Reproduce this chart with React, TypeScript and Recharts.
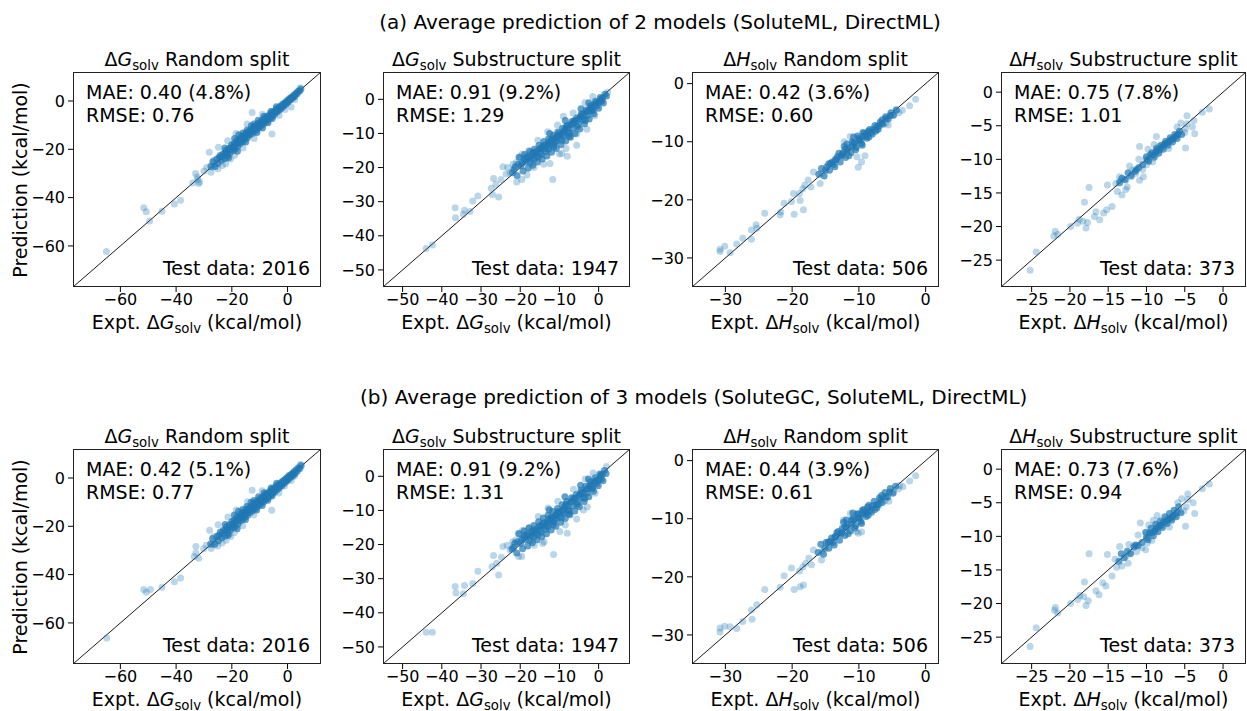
import React from "react";
import { ScatterChart, Scatter, XAxis, YAxis, ReferenceLine } from "recharts";

type Pt = [number, number];

// headers
const headers = [
  "(a) Average prediction of 2 models (SoluteML, DirectML)",
  "(b) Average prediction of 3 models (SoluteGC, SoluteML, DirectML)",
];

// panel metadata (same order in both rows)
const quantities = ["G", "G", "H", "H"];
const splits = ["Random split", "Substructure split", "Random split", "Substructure split"];
const domains: Pt[] = [[-77, 12], [-55, 8], [-35, 2], [-29, 3]];
const ticks = [
  [-60, -40, -20, 0],
  [-50, -40, -30, -20, -10, 0],
  [-30, -20, -10, 0],
  [-25, -20, -15, -10, -5, 0],
];
const testCounts = [2016, 1947, 506, 373];
const maeA = ["0.40 (4.8%)", "0.91 (9.2%)", "0.42 (3.6%)", "0.75 (7.8%)"];
const rmseA = ["0.76", "1.29", "0.60", "1.01"];
const maeB = ["0.42 (5.1%)", "0.91 (9.2%)", "0.44 (3.9%)", "0.73 (7.6%)"];
const rmseB = ["0.77", "1.31", "0.61", "0.94"];

// ---- row (a) ----
const coreG1a: Pt[] = [
  [-27.5, -27.0], [-26.8, -25.2], [-26.0, -27.1], [-25.4, -24.0], [-24.9, -25.8], [-24.2, -22.6], [-23.7, -24.5],
  [-23.1, -21.8], [-22.6, -23.9], [-22.0, -20.4], [-21.5, -22.8], [-21.0, -19.6], [-20.6, -21.4], [-20.1, -18.2],
  [-19.7, -20.5], [-19.2, -17.6], [-18.8, -19.9], [-18.3, -16.4], [-17.9, -18.8], [-17.4, -15.9], [-17.0, -17.6],
  [-16.6, -14.8], [-16.1, -16.9], [-15.7, -14.2], [-15.3, -15.8], [-14.8, -13.1], [-14.4, -15.2], [-14.0, -12.6],
  [-13.6, -14.1], [-13.1, -11.8], [-12.7, -13.5], [-12.3, -10.9], [-11.9, -12.6], [-11.5, -10.2], [-11.0, -11.8],
  [-10.6, -9.4], [-10.2, -11.0], [-9.8, -8.7], [-9.4, -10.1], [-9.0, -8.0], [-8.6, -9.5], [-8.2, -7.1], [-7.8, -8.6],
  [-7.4, -6.5], [-7.0, -7.9], [-6.6, -5.8], [-6.2, -7.0], [-5.8, -5.0], [-5.4, -6.2], [-5.0, -4.3], [-4.6, -5.5],
  [-4.2, -3.6], [-3.8, -4.6], [-3.4, -2.9], [-3.0, -3.8], [-2.6, -2.2], [-2.2, -3.0], [-1.8, -1.4], [-1.4, -2.1],
  [-1.0, -0.7], [-0.6, -1.3], [-0.2, 0.1], [0.2, -0.4], [0.6, 0.9], [1.0, 0.5], [1.4, 1.5], [1.8, 1.2], [2.2, 2.4],
  [2.6, 2.0], [3.0, 3.2], [3.4, 3.0], [3.8, 4.0], [4.3, 4.1], [4.8, 5.0], [-19.0, -15.5], [-17.5, -14.0],
  [-16.0, -13.2], [-14.5, -12.0], [-13.0, -10.2], [-12.0, -9.5], [-22.5, -19.5], [-21.2, -23.5], [-18.0, -20.8],
  [-15.0, -17.0], [-11.0, -13.0], [-9.0, -11.2], [-7.0, -9.0], [-5.5, -7.3], [-10.5, -8.0], [-8.5, -6.3],
  [-6.0, -4.3], [-4.0, -2.4], [-24.5, -23.4], [-23.4, -23.0], [-22.3, -21.2], [-21.8, -21.8], [-20.8, -20.2],
  [-19.9, -19.2], [-19.4, -18.8], [-18.6, -17.9], [-17.7, -17.2], [-17.2, -16.6], [-16.4, -15.9], [-15.5, -15.0],
  [-14.9, -14.3], [-14.2, -13.9], [-13.3, -12.8], [-12.5, -12.2], [-11.7, -11.3], [-10.8, -10.5], [-10.0, -9.8],
  [-9.2, -9.0], [-8.4, -8.3], [-7.6, -7.5], [-6.8, -6.8], [-6.0, -6.1], [-5.2, -5.3], [-4.4, -4.5], [-3.6, -3.7],
  [-2.8, -3.0], [-2.0, -2.2], [-1.2, -1.4], [-0.4, -0.6], [0.4, 0.2], [1.2, 1.0], [2.0, 1.8],
];
const sparseG1a: Pt[] = [
  [-65, -62.3], [-51.6, -44.2], [-50.7, -45.9], [-49.5, -49.7], [-45.1, -45.6], [-40.6, -42.6], [-38.4, -41.1],
  [-33, -30], [-32.4, -31.5], [-31.6, -33.5], [-34, -34], [-32.2, -32.5], [-31.9, -34.2], [-27.5, -29.5],
  [-27, -27.4], [-25.8, -26], [-24.8, -19.2], [-28.1, -21.2], [-23.4, -26.7], [-22.2, -26], [-12.7, -4.8],
  [1.3, -2.5], [-5.6, -13.7], [4.5, 5.5], [-26.5, -24.5], [-29, -27.5], [-30, -29], [-25, -28], [-20.5, -24],
  [-19, -22.5], [-16, -19.5], [-12, -15.5], [-21.5, -16.5], [-18.5, -13.5], [-14.5, -9.5], [-9, -5.5], [-3, -6],
  [-1, -3.5], [2.5, 0.5],
];
const coreG2a: Pt[] = [
  [-22.0, -21.5], [-21.3, -19.8], [-20.8, -22.3], [-20.2, -17.0], [-19.8, -19.5], [-19.3, -21.0], [-18.9, -16.2],
  [-18.5, -18.4], [-18.0, -20.2], [-17.6, -15.3], [-17.2, -17.4], [-16.8, -19.3], [-16.4, -14.6], [-16.0, -16.6],
  [-15.6, -18.4], [-15.2, -13.5], [-14.8, -15.6], [-14.4, -17.5], [-14.0, -12.4], [-13.6, -14.5], [-13.2, -16.6],
  [-12.8, -11.6], [-12.4, -13.6], [-12.0, -15.5], [-11.6, -10.5], [-11.2, -12.6], [-10.8, -14.4], [-10.4, -9.6],
  [-10.0, -11.5], [-9.6, -13.3], [-9.2, -8.5], [-8.8, -10.6], [-8.4, -12.2], [-8.0, -7.6], [-7.6, -9.6],
  [-7.2, -11.1], [-6.8, -6.5], [-6.4, -8.4], [-6.0, -10.0], [-5.6, -5.5], [-5.2, -7.3], [-4.8, -8.7], [-4.4, -4.3],
  [-4.0, -6.1], [-3.6, -7.2], [-3.2, -3.1], [-2.8, -4.7], [-2.4, -5.8], [-2.0, -1.8], [-1.6, -3.4], [-1.2, -4.2],
  [-0.8, -0.6], [-0.4, -1.9], [0.0, -2.6], [0.4, 0.5], [0.8, -0.6], [1.2, -1.1], [1.6, 1.5], [2.0, 1.0],
  [-17.0, -16.0], [-15.0, -14.5], [-13.0, -13.2], [-11.0, -11.3], [-9.0, -9.5], [-7.0, -7.4], [-5.0, -5.6],
  [-3.0, -3.6], [-1.0, -1.5], [-16.2, -15.8], [-14.2, -13.8], [-12.2, -12.0], [-10.2, -10.1], [-8.2, -8.0],
  [-6.2, -6.2], [-4.2, -4.5], [-2.2, -2.6], [-19.0, -17.8], [-12.5, -10.0], [-8.5, -6.2], [-4.5, -2.8],
  [-2.5, -1.0], [-11.5, -14.0], [-7.5, -10.8], [-21.6, -20.6], [-20.5, -19.0], [-19.5, -18.6], [-18.7, -17.2],
  [-17.8, -17.0], [-17.4, -18.6], [-16.6, -15.6], [-15.8, -15.2], [-15.4, -16.9], [-14.6, -14.2], [-13.8, -13.4],
  [-13.4, -15.3], [-12.6, -12.6], [-11.8, -11.8], [-11.4, -13.2], [-10.6, -10.8], [-9.8, -10.4], [-9.4, -12.0],
  [-8.6, -8.8], [-7.8, -8.4], [-7.4, -10.0], [-6.6, -7.0], [-5.8, -6.4], [-5.4, -8.0], [-4.6, -5.0], [-3.8, -5.0],
  [-3.4, -6.2], [-2.6, -3.4], [-1.8, -2.4], [-1.4, -3.0], [-0.6, -1.0], [0.2, -0.8], [0.6, 0.0], [1.0, 0.4],
  [-18.2, -16.8], [-16.4, -17.5], [-14.6, -16.2], [-12.8, -14.6], [-10.8, -12.2], [-9.0, -10.2],
];
const sparseG2a: Pt[] = [
  [-44, -43.7], [-42.4, -42.7], [-36.6, -31.8], [-36.5, -34.7], [-34.2, -32.5], [-34.5, -33.7], [-32.8, -32.9],
  [-32.1, -29.8], [-30.8, -28.3], [-26.8, -23.2], [-27.4, -26.1], [-27.1, -27.9], [-25.5, -28.6], [-26.2, -24.9],
  [-24.4, -19.8], [-23.6, -21.9], [-22.6, -21.5], [-20.9, -24.2], [-19.6, -23.5], [-18.3, -22.2], [-12.4, -18.8],
  [-11.7, -23.5], [-9.4, -15.9], [-8, -16.7], [-8.3, -14.4], [-5.6, -13.5], [-5.6, -10.2], [-9, -5], [2.3, 2.1],
  [-24.9, -23.5], [-23.2, -20], [-21.8, -19], [-20.4, -16.9], [-21, -18.5], [-19.5, -16], [-17.8, -15],
  [-15.5, -12], [-13, -9.5], [-10.5, -7.5], [-3.5, -1.0], [-1.5, 0.8], [-6.5, -4.0], [-14, -19.0], [-16.5, -20.0],
  [-10, -16.0], [-3, -8.8], [-1, -4.8],
];
const coreH1a: Pt[] = [
  [-16.0, -15.6], [-15.6, -14.6], [-15.2, -15.9], [-14.8, -14.3], [-14.4, -14.9], [-14.0, -13.5], [-13.6, -14.3],
  [-13.2, -12.6], [-12.8, -13.5], [-12.4, -11.9], [-12.0, -12.7], [-11.6, -11.1], [-11.2, -11.9], [-10.8, -10.2],
  [-10.4, -11.0], [-10.0, -9.4], [-9.6, -10.3], [-9.2, -8.6], [-8.8, -9.4], [-8.4, -7.9], [-8.0, -8.7],
  [-7.6, -7.2], [-7.2, -7.9], [-6.8, -6.6], [-6.4, -7.0], [-6.0, -5.7], [-5.6, -6.1], [-5.2, -5.0], [-4.8, -5.4],
  [-4.4, -4.6], [-13.0, -12.0], [-12.0, -11.2], [-11.0, -10.0], [-10.2, -9.0], [-9.4, -8.4], [-8.6, -8.2],
  [-11.5, -12.4], [-10.5, -11.4], [-9.5, -10.6], [-8.5, -9.2], [-7.5, -8.2], [-6.5, -6.2], [-14.5, -13.8],
  [-13.5, -13.0], [-12.5, -12.2], [-12.2, -10.8], [-11.8, -10.4], [-10.8, -9.2], [-9.8, -9.8], [-9.0, -9.0],
  [-8.2, -8.4], [-7.0, -7.3], [-15.0, -14.9], [-13.8, -13.9], [-14.2, -13.7], [-13.4, -13.1], [-12.6, -12.4],
  [-11.8, -11.6], [-11.0, -10.8], [-10.6, -10.3], [-9.9, -9.6], [-9.3, -9.1], [-8.7, -8.6], [-7.9, -7.9],
  [-7.3, -7.4], [-6.6, -6.8], [-5.9, -6.0], [-5.3, -5.5],
];
const sparseH1a: Pt[] = [
  [-30.8, -28.9], [-30.8, -28.5], [-30.1, -28.0], [-29.3, -29.1], [-28.3, -27.6], [-27.4, -26.6], [-26.1, -25.2],
  [-26.1, -26.8], [-25.4, -24.3], [-25.3, -24.9], [-24.1, -22.3], [-21.8, -22.6], [-21.7, -22.1], [-21.2, -20.6],
  [-20.1, -20.3], [-19.8, -18.9], [-19.7, -22.5], [-18.8, -20.1], [-18.3, -21.7], [-18.9, -18.9], [-18.4, -18.1],
  [-18.1, -17.5], [-17.6, -16.6], [-17.2, -17.8], [-16.8, -15.2], [-15.8, -17.2], [-15.6, -15.5], [-11.3, -9.1],
  [-10.1, -14.4], [-9.6, -13.5], [-10.3, -12.6], [-9.1, -12.4], [-4.4, -4.4], [-2.4, -3.8], [-1.5, -2.7],
  [-5.6, -7.1], [-4.9, -5.5], [-3.5, -4.6], [-4.0, -5.0], [-12.2, -10.0], [-7.0, -7.8], [-6.0, -6.8],
];
const coreH2a: Pt[] = [
  [-10.5, -10.8], [-10.0, -9.6], [-9.7, -10.3], [-9.3, -9.0], [-9.0, -9.7], [-8.7, -8.4], [-8.4, -9.1],
  [-8.1, -7.9], [-7.8, -8.5], [-7.5, -7.3], [-7.2, -7.9], [-6.9, -6.8], [-6.6, -7.4], [-6.3, -6.3], [-6.0, -6.9],
  [-5.7, -5.8], [-5.4, -6.3], [-8.8, -8.9], [-8.0, -8.2], [-7.4, -7.6], [-6.8, -7.1], [-6.2, -6.6], [-9.5, -9.3],
  [-11.0, -11.2], [-11.5, -11.8], [-12.0, -12.4], [-12.8, -13.0], [-13.2, -12.8], [-13.5, -13.5], [-9.9, -10.1],
  [-9.2, -9.4], [-8.6, -8.7], [-8.3, -8.6], [-7.7, -7.8], [-7.1, -7.4], [-6.5, -6.9], [-5.9, -6.3], [-11.3, -11.5],
  [-12.4, -12.0],
];
const sparseH2a: Pt[] = [
  [-25.2, -26.5], [-24.4, -23.8], [-21.9, -20.7], [-21.6, -21.2], [-22.1, -21.4], [-19.9, -20], [-19, -19.5],
  [-18.8, -18.9], [-18.3, -19.2], [-17.9, -20.2], [-17.7, -19.4], [-18.1, -16.4], [-17.5, -14.2], [-16.8, -18.5],
  [-16.6, -17.8], [-16.1, -19], [-15.6, -18], [-15.2, -17.5], [-14.5, -17], [-15.1, -13.8], [-13.5, -12.6],
  [-13.5, -13.2], [-13.2, -15.3], [-12.7, -14.5], [-12.5, -14.1], [-12.7, -13.1], [-12, -12.6], [-11.8, -11.6],
  [-11.4, -12.1], [-10.9, -13.1], [-10.4, -12.6], [-10.9, -8.1], [-10.1, -9.9], [-9.2, -10.4], [-8.8, -9.4],
  [-8.7, -6.6], [-8.4, -8.1], [-7.5, -7.6], [-6.6, -7.1], [-7.1, -8.4], [-4.9, -8.3], [-4.7, -3.5], [-3.8, -4.2],
  [-3.7, -6.2], [-4, -5.2], [-2.7, -3], [-1.8, -2.5], [-4.9, -5.4], [-4.7, -4.7], [-11.0, -10.0], [-10.5, -11.5],
  [-9.8, -8.5], [-9.0, -7.8], [-6.0, -5.2], [-5.5, -4.6], [-5.0, -6.0], [-12.2, -11.0], [-13.8, -14.8],
  [-14.0, -13.6], [-10.0, -10.8],
];

// ---- row (b) ----
const coreG1b: Pt[] = [
  [-27.6, -27.3], [-26.9, -25.0], [-26.1, -27.4], [-25.3, -24.2], [-24.8, -26.0], [-24.1, -22.4], [-23.6, -24.7],
  [-23.0, -21.6], [-22.5, -24.1], [-21.9, -20.2], [-21.4, -23.0], [-20.9, -19.4], [-20.5, -21.6], [-20.0, -18.0],
  [-19.6, -20.7], [-19.1, -17.4], [-18.7, -20.1], [-18.2, -16.2], [-17.8, -19.0], [-17.3, -15.7], [-16.9, -17.8],
  [-16.5, -14.6], [-16.0, -17.1], [-15.6, -14.0], [-15.2, -16.0], [-14.7, -12.9], [-14.3, -15.4], [-13.9, -12.4],
  [-13.5, -14.3], [-13.0, -11.6], [-12.6, -13.7], [-12.2, -10.7], [-11.8, -12.8], [-11.4, -10.0], [-10.9, -12.0],
  [-10.5, -9.2], [-10.1, -11.2], [-9.7, -8.5], [-9.3, -10.3], [-8.9, -7.8], [-8.5, -9.7], [-8.1, -6.9], [-7.7, -8.8],
  [-7.3, -6.3], [-6.9, -8.1], [-6.5, -5.6], [-6.1, -7.2], [-5.7, -4.8], [-5.3, -6.4], [-4.9, -4.1], [-4.5, -5.7],
  [-4.1, -3.4], [-3.7, -4.8], [-3.3, -2.7], [-2.9, -4.0], [-2.5, -2.0], [-2.1, -3.2], [-1.7, -1.2], [-1.3, -2.3],
  [-0.9, -0.5], [-0.5, -1.5], [-0.1, 0.3], [0.3, -0.6], [0.7, 1.1], [1.1, 0.3], [1.5, 1.7], [1.9, 1.0],
  [2.3, 2.6], [2.7, 1.8], [3.1, 3.4], [3.5, 2.8], [3.9, 4.2], [4.4, 3.9], [4.9, 5.2], [-19.1, -15.3],
  [-17.6, -13.8], [-16.1, -13.0], [-14.6, -11.8], [-13.1, -10.0], [-12.1, -9.3], [-22.4, -19.3], [-21.3, -23.7],
  [-18.1, -21.0], [-15.1, -17.2], [-11.1, -13.2], [-9.1, -11.4], [-7.1, -9.2], [-5.6, -7.5], [-10.4, -7.8],
  [-8.4, -6.1], [-5.9, -4.1], [-3.9, -2.2], [-24.6, -23.6], [-23.3, -22.8], [-22.2, -21.4], [-21.7, -21.6],
  [-20.7, -20.4], [-19.8, -19.0], [-19.3, -19.0], [-18.5, -17.7], [-17.6, -17.4], [-17.1, -16.4], [-16.3, -16.1],
  [-15.4, -14.8], [-14.8, -14.5], [-14.1, -13.7], [-13.2, -13.0], [-12.4, -12.0], [-11.6, -11.5], [-10.7, -10.3],
  [-9.9, -10.0], [-9.1, -8.8], [-8.3, -8.5], [-7.5, -7.3], [-6.7, -7.0], [-5.9, -5.9], [-5.1, -5.5], [-4.3, -4.3],
  [-3.5, -3.9], [-2.7, -2.8], [-1.9, -2.4], [-1.1, -1.2], [-0.3, -0.8], [0.5, 0.4], [1.3, 0.8], [2.1, 2.0],
];
const sparseG1b: Pt[] = [
  [-64.9, -66.2], [-51.6, -46.2], [-50.7, -47.3], [-49.2, -46.2], [-45.1, -45.2], [-40.6, -43], [-38.4, -41.4],
  [-32.9, -28.4], [-32.9, -31.1], [-31.9, -33.2], [-33.5, -32.5], [-27.4, -29.2], [-27.1, -27.6], [-25.9, -26.3],
  [-24.9, -19.4], [-28.0, -21.6], [-23.5, -26.9], [-22.1, -25.8], [-12.7, -5.1], [1.3, -1.0], [-5.7, -13.4],
  [4.6, 5.6], [-26.4, -24.2], [-29.1, -27.8], [-30.1, -29.3], [-25.1, -28.2], [-20.4, -24.2], [-19.1, -22.7],
  [-16.1, -19.8], [-12.1, -15.3], [-21.4, -16.2], [-18.4, -13.2], [-14.4, -9.8], [-9.1, -5.3], [-3.1, -6.2],
  [-1.1, -3.3], [2.4, 0.7],
];
const coreG2b: Pt[] = [
  [-22.1, -21.3], [-21.4, -19.6], [-20.9, -22.5], [-20.3, -16.8], [-19.9, -19.7], [-19.4, -21.2], [-19.0, -16.0],
  [-18.6, -18.6], [-18.1, -20.4], [-17.7, -15.1], [-17.3, -17.6], [-16.9, -19.5], [-16.5, -14.4], [-16.1, -16.8],
  [-15.7, -18.6], [-15.3, -13.3], [-14.9, -15.8], [-14.5, -17.7], [-14.1, -12.2], [-13.7, -14.7], [-13.3, -16.8],
  [-12.9, -11.4], [-12.5, -13.8], [-12.1, -15.7], [-11.7, -10.3], [-11.3, -12.8], [-10.9, -14.6], [-10.5, -9.4],
  [-10.1, -11.7], [-9.7, -13.5], [-9.3, -8.3], [-8.9, -10.8], [-8.5, -12.4], [-8.1, -7.4], [-7.7, -9.8],
  [-7.3, -11.3], [-6.9, -6.3], [-6.5, -8.6], [-6.1, -10.2], [-5.7, -5.3], [-5.3, -7.5], [-4.9, -8.9], [-4.5, -4.1],
  [-4.1, -6.3], [-3.7, -7.4], [-3.3, -2.9], [-2.9, -4.9], [-2.5, -6.0], [-2.1, -1.6], [-1.7, -3.6], [-1.3, -4.4],
  [-0.9, -0.4], [-0.5, -2.1], [-0.1, -2.8], [0.3, 0.7], [0.7, -0.8], [1.1, -1.3], [1.5, 1.7], [1.9, 0.8],
  [-17.1, -16.2], [-15.1, -14.7], [-13.1, -13.4], [-11.1, -11.5], [-9.1, -9.7], [-7.1, -7.6], [-5.1, -5.8],
  [-3.1, -3.8], [-1.1, -1.7], [-16.3, -16.0], [-14.3, -14.0], [-12.3, -12.2], [-10.3, -10.3], [-8.3, -8.2],
  [-6.3, -6.4], [-4.3, -4.7], [-2.3, -2.8], [-19.1, -18.0], [-12.6, -9.8], [-8.6, -6.0], [-4.6, -2.6],
  [-2.6, -0.8], [-11.6, -14.2], [-7.6, -11.0], [-21.7, -20.8], [-20.6, -19.2], [-19.6, -18.4], [-18.8, -17.4],
  [-17.9, -17.2], [-17.5, -18.8], [-16.7, -15.8], [-15.9, -15.4], [-15.5, -17.1], [-14.7, -14.4], [-13.9, -13.6],
  [-13.5, -15.5], [-12.7, -12.8], [-11.9, -12.0], [-11.5, -13.4], [-10.7, -11.0], [-9.9, -10.6], [-9.5, -12.2],
  [-8.7, -9.0], [-7.9, -8.6], [-7.5, -10.2], [-6.7, -7.2], [-5.9, -6.6], [-5.5, -8.2], [-4.7, -5.2], [-3.9, -5.2],
  [-3.5, -6.4], [-2.7, -3.6], [-1.9, -2.6], [-1.5, -3.2], [-0.7, -1.2], [0.1, -1.0], [0.5, 0.2], [0.9, 0.6],
  [-18.3, -17.0], [-16.5, -17.7], [-14.7, -16.4], [-12.9, -14.8], [-10.9, -12.4], [-9.1, -10.4],
];
const sparseG2b: Pt[] = [
  [-44, -45.7], [-42.4, -45.7], [-36.6, -32.3], [-36.4, -34.2], [-34.2, -32], [-34.5, -34.4], [-32.1, -31.4],
  [-30.8, -27.8], [-26.8, -23.2], [-27.2, -26.5], [-25.5, -28.9], [-26, -25.5], [-24.4, -20.6], [-22.6, -21.6],
  [-20.4, -23.5], [-19.6, -23.5], [-14.3, -19.7], [-11.5, -22.9], [-8.5, -14.3], [-8, -16.7], [-5.6, -12.5],
  [-3.9, -9.9], [-5.4, -8.5], [2, 2.9], [-24.8, -23.7], [-23.3, -20.2], [-21.9, -19.2], [-20.5, -16.7],
  [-21.1, -18.7], [-19.4, -15.8], [-17.9, -15.2], [-15.4, -11.8], [-12.9, -9.3], [-10.4, -7.3], [-3.4, -0.8],
  [-1.4, 1.0], [-6.4, -3.8], [-13.9, -19.2], [-16.4, -20.2], [-9.9, -16.2], [-2.9, -9.0], [-0.9, -5.0],
];
const coreH1b: Pt[] = [
  [-16.1, -15.8], [-15.7, -14.4], [-15.3, -16.1], [-14.9, -14.1], [-14.5, -15.1], [-14.1, -13.3], [-13.7, -14.5],
  [-13.3, -12.4], [-12.9, -13.7], [-12.5, -11.7], [-12.1, -12.9], [-11.7, -10.9], [-11.3, -12.1], [-10.9, -10.0],
  [-10.5, -11.2], [-10.1, -9.2], [-9.7, -10.5], [-9.3, -8.4], [-8.9, -9.6], [-8.5, -7.7], [-8.1, -8.9],
  [-7.7, -7.0], [-7.3, -8.1], [-6.9, -6.4], [-6.5, -7.2], [-6.1, -5.5], [-5.7, -6.3], [-5.3, -4.8], [-4.9, -5.6],
  [-4.5, -4.4], [-13.1, -12.2], [-12.1, -11.4], [-11.1, -10.2], [-10.3, -9.2], [-9.5, -8.6], [-8.7, -8.0],
  [-11.6, -12.6], [-10.6, -11.6], [-9.6, -10.8], [-8.6, -9.4], [-7.6, -8.4], [-6.6, -6.0], [-14.6, -14.0],
  [-13.6, -13.2], [-12.6, -12.4], [-12.3, -10.6], [-11.9, -10.2], [-10.9, -9.0], [-9.9, -10.0], [-9.1, -9.2],
  [-8.3, -8.6], [-7.1, -7.5], [-15.1, -15.1], [-13.9, -14.1], [-14.3, -13.9], [-13.5, -13.0], [-12.7, -12.6],
  [-11.9, -11.5], [-11.1, -11.0], [-10.7, -10.2], [-10.0, -9.8], [-9.4, -9.0], [-8.8, -8.8], [-8.0, -7.8],
  [-7.4, -7.6], [-6.7, -6.7], [-6.0, -6.2], [-5.4, -5.4],
];
const sparseH1b: Pt[] = [
  [-30.8, -29.5], [-30.8, -28.8], [-30.1, -28.5], [-29.3, -28.6], [-28.3, -28.9], [-27.4, -27.7], [-26.1, -25.7],
  [-26, -27.3], [-25.3, -24.8], [-24.1, -22.2], [-21.8, -21.8], [-21.2, -19.8], [-20.1, -18.5], [-19.7, -22.2],
  [-18.8, -21.7], [-18.3, -21.4], [-18.9, -19.0], [-18.4, -18.3], [-18.0, -17.7], [-17.5, -16.8], [-17.1, -17.9],
  [-16.8, -15.4], [-15.6, -17.1], [-15.5, -15.6], [-11.3, -9.1], [-10.1, -12.5], [-9.6, -12.3], [-10.4, -12.2],
  [-3.9, -4.3], [-2.4, -3.5], [-1.5, -2.6], [-5.5, -7.0], [-4.8, -5.4], [-3.4, -4.5], [-4.1, -4.9],
  [-12.3, -10.2], [-6.9, -7.6], [-6.1, -6.9],
];
const coreH2b: Pt[] = [
  [-10.6, -10.9], [-10.1, -9.4], [-9.8, -10.5], [-9.4, -8.8], [-9.1, -9.9], [-8.8, -8.2], [-8.5, -9.3],
  [-8.2, -7.7], [-7.9, -8.7], [-7.6, -7.1], [-7.3, -8.1], [-7.0, -6.6], [-6.7, -7.6], [-6.4, -6.1], [-6.1, -7.1],
  [-5.8, -5.6], [-5.5, -6.5], [-8.9, -9.1], [-8.1, -8.4], [-7.5, -7.8], [-6.9, -7.3], [-6.3, -6.8], [-9.6, -9.5],
  [-11.1, -11.4], [-11.6, -11.6], [-12.1, -12.6], [-12.9, -13.2], [-13.3, -12.6], [-13.6, -13.7], [-10.0, -10.2],
  [-9.3, -9.5], [-8.7, -8.8], [-8.4, -8.5], [-7.8, -7.9], [-7.2, -7.5], [-6.6, -7.0], [-6.0, -6.4], [-11.4, -11.3],
  [-12.5, -12.2],
];
const sparseH2b: Pt[] = [
  [-25.2, -26.4], [-24.4, -23.6], [-21.9, -20.6], [-21.6, -21.4], [-22.0, -21.0], [-19.9, -20], [-19, -19.4],
  [-18.7, -18.8], [-18.2, -19.0], [-17.9, -20.3], [-17.6, -19.6], [-18.1, -16.8], [-17.5, -12.6], [-16.6, -18.1],
  [-16.2, -18.7], [-15.7, -16.9], [-15.1, -12.7], [-14.5, -15.9], [-15.3, -17.4], [-13.5, -11.5], [-13.2, -14.4],
  [-12.7, -13.0], [-12.4, -14.0], [-12.1, -12.4], [-11.7, -11.4], [-11.3, -12.3], [-10.1, -12.0], [-10.8, -8.0],
  [-10.0, -9.7], [-9.3, -10.6], [-8.9, -9.2], [-8.6, -6.9], [-8.3, -8.3], [-7.4, -7.4], [-6.7, -7.3],
  [-7.0, -8.6], [-4.9, -8.5], [-4.6, -3.7], [-3.7, -6.6], [-3.9, -5.0], [-2.7, -2.9], [-1.8, -2.2], [-4.8, -5.6],
  [-4.6, -4.5], [-11.1, -9.8], [-10.6, -11.7], [-9.7, -8.3], [-9.1, -7.6], [-5.9, -5.0], [-5.4, -4.4],
  [-5.1, -6.2], [-12.3, -11.2], [-13.9, -14.6], [-14.1, -13.4], [-9.9, -11.0],
];

const coreRows = [
  [coreG1a, coreG2a, coreH1a, coreH2a],
  [coreG1b, coreG2b, coreH1b, coreH2b],
];
const sparseRows = [
  [sparseG1a, sparseG2a, sparseH1a, sparseH2a],
  [sparseG1b, sparseG2b, sparseH1b, sparseH2b],
];
const maeRows = [maeA, maeB];
const rmseRows = [rmseA, rmseB];

// layout
const COLS: Pt[] = [[73, 321], [383, 630], [692, 939], [1001, 1246]];
const ROWS: Pt[] = [[72, 287], [449, 664]];
const YW = 60;
const XH = 30;
const FONT = "'DejaVu Sans', sans-serif";
const BLUE = "#1f77b4";

const toObj = (a: Pt[]) => a.map(([x, y]) => ({ x, y }));
const fmt = (v: number) => (v < 0 ? "\u2212" + Math.abs(v) : String(v));

const Sym = ({ q }: { q: string }) => (
  <span>
    Δ<i>{q}</i>
    <span style={{ fontSize: "0.7em", position: "relative", top: "0.3em" }}>solv</span>
  </span>
);

const text = (extra: React.CSSProperties): React.CSSProperties => ({
  position: "absolute",
  fontFamily: FONT,
  fontSize: 19,
  lineHeight: "22px",
  whiteSpace: "nowrap",
  color: "#000",
  ...extra,
});

const dot = (opacity: number) => (p: any) => (
  <circle cx={p.cx} cy={p.cy} r={3.5} fill={BLUE} fillOpacity={opacity} stroke="none" />
);

function Panel({ row, col }: { row: number; col: number }) {
  const [x0, x1] = COLS[col];
  const [y0, y1] = ROWS[row];
  const [lo, hi] = domains[col];
  const w = x1 - x0;
  const h = y1 - y0;
  const tickStyle = { fontSize: 16, fill: "#000", fontFamily: FONT };
  return (
    <>
      <div style={{ position: "absolute", left: x0 - YW, top: y0 }}>
        <ScatterChart width={w + YW} height={h + XH} margin={{ top: 0, right: 0, bottom: 0, left: 0 }}>
          <XAxis
            type="number"
            dataKey="x"
            domain={[lo, hi]}
            ticks={ticks[col]}
            allowDataOverflow
            tickFormatter={fmt}
            tick={tickStyle}
            tickLine={{ stroke: "#000" }}
            tickSize={5}
            tickMargin={2}
            axisLine={false}
            height={XH}
          />
          <YAxis
            type="number"
            dataKey="y"
            domain={[lo, hi]}
            ticks={ticks[col]}
            allowDataOverflow
            tickFormatter={fmt}
            tick={tickStyle}
            tickLine={{ stroke: "#000" }}
            tickSize={5}
            tickMargin={3}
            axisLine={false}
            width={YW}
          />
          <Scatter data={toObj(sparseRows[row][col])} shape={dot(0.3)} isAnimationActive={false} />
          <Scatter data={toObj(coreRows[row][col])} shape={dot(0.7)} isAnimationActive={false} />
          <ReferenceLine
            segment={[{ x: lo, y: lo }, { x: hi, y: hi }]}
            stroke="#000"
            strokeWidth={0.9}
            ifOverflow="hidden"
          />
        </ScatterChart>
      </div>
      <div
        style={{
          position: "absolute",
          left: x0,
          top: y0,
          width: w,
          height: h,
          border: "1px solid #222",
          boxSizing: "border-box",
          pointerEvents: "none",
        }}
      />
      <div style={text({ left: x0, width: w, top: y0 - 12, transform: "translateY(-50%)", textAlign: "center" })}>
        <Sym q={quantities[col]} /> {splits[col]}
      </div>
      <div style={text({ left: x0 + 13, top: y0 + 20, transform: "translateY(-50%)" })}>
        MAE: {maeRows[row][col]}
      </div>
      <div style={text({ left: x0 + 13, top: y0 + 43, transform: "translateY(-50%)" })}>
        RMSE: {rmseRows[row][col]}
      </div>
      <div style={text({ right: 1247 - (x1 - 11), top: y1 - 19, transform: "translateY(-50%)" })}>
        Test data: {testCounts[col]}
      </div>
      <div style={text({ left: x0 - 40, width: w + 80, top: y1 + 36, transform: "translateY(-50%)", textAlign: "center" })}>
        Expt. <Sym q={quantities[col]} /> (kcal/mol)
      </div>
      {col === 0 && (
        <div
          style={text({
            left: 20,
            top: (y0 + y1) / 2,
            transform: "translate(-50%, -50%) rotate(-90deg)",
          })}
        >
          Prediction (kcal/mol)
        </div>
      )}
    </>
  );
}

export default function App() {
  return (
    <div style={{ position: "absolute", left: 0, top: 0, width: 1247, height: 711, background: "#fff", overflow: "hidden" }}>
      <div style={text({ left: 360, width: 600, top: 22, fontSize: 20, transform: "translateY(-50%)", textAlign: "center" })}>
        {headers[0]}
      </div>
      <div style={text({ left: 360, width: 600, top: 397, fontSize: 20, transform: "translateY(-50%)", textAlign: "center" })}>
        {headers[1]}
      </div>
      {[0, 1].map((r) => [0, 1, 2, 3].map((c) => <Panel key={`${r}-${c}`} row={r} col={c} />))}
    </div>
  );
}
